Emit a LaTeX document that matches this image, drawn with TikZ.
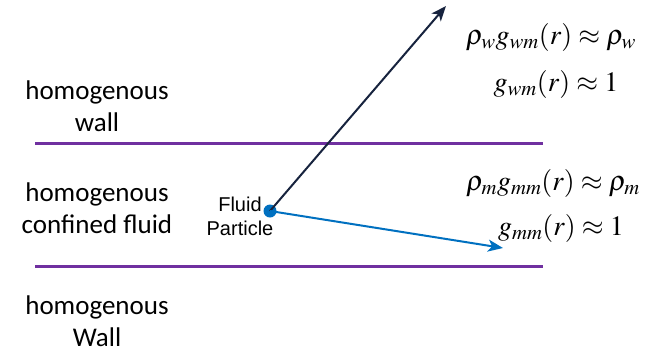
\documentclass[tikz,border=0pt]{standalone}
\usepackage{mathptmx}
\usepackage{fontspec}
\usepackage{tikz}
\usetikzlibrary{arrows.meta, positioning}
\newfontfamily\calibrifont{Carlito}
\newfontfamily\arialfont{Liberation Sans}
\definecolor{wallpurple}{RGB}{112,48,160}
\definecolor{fluidblue}{RGB}{0,112,192}
\definecolor{darknavy}{RGB}{23,35,62}

\begin{document}
\begin{tikzpicture}[x=1pt, y=-1pt,
  region/.style={align=center, font=\calibrifont\fontsize{27}{32}\selectfont, inner sep=0pt},
  eqn/.style={font=\fontsize{28}{32}\selectfont, inner sep=0pt},
  wall/.style={wallpurple, line width=3pt},
  vec/.style={line width=2pt, -{Stealth[length=15pt, width=12pt, inset=4pt]}}]
\useasboundingbox (0,0) rectangle (664,354);

  % Walls
  \draw[wall] (35,143) -- (543,143);
  \draw[wall] (35,266) -- (543,266);

  % Regions
  \node[region] (upperwall) at (97,106) {homogenous\\wall};
  \node[region] (fluid)     at (97,208) {homogenous\\confined fluid};
  \node[region] (lowerwall) at (97,321) {homogenous\\Wall};

  % Fluid particle
  \node[circle, fill=fluidblue, inner sep=0pt, minimum size=13pt] (particle) at (270,211) {};
  \node[align=center, inner sep=0pt, font=\arialfont\fontsize{20}{24}\selectfont]
    (plabel) at (240,216) {Fluid\\Particle};

  % Correlation vectors
  \coordinate (wtip) at (446,6);
  \coordinate (mtip) at (503,248);
  \draw[vec, darknavy] (particle.center) -- (wtip);
  \draw[vec, fluidblue] (particle.center) -- (mtip);

  % Pair correlations
  \node[eqn] (wmrho) at (551,37)  {$\rho_w g_{wm}(r) \approx \rho_w$};
  \node[eqn] (wmg)   at (556,84)  {$g_{wm}(r) \approx 1$};
  \node[eqn] (mmrho) at (553,183) {$\rho_m g_{mm}(r) \approx \rho_m$};
  \node[eqn] (mmg)   at (561,228) {$g_{mm}(r) \approx 1$};
\end{tikzpicture}
\end{document}
